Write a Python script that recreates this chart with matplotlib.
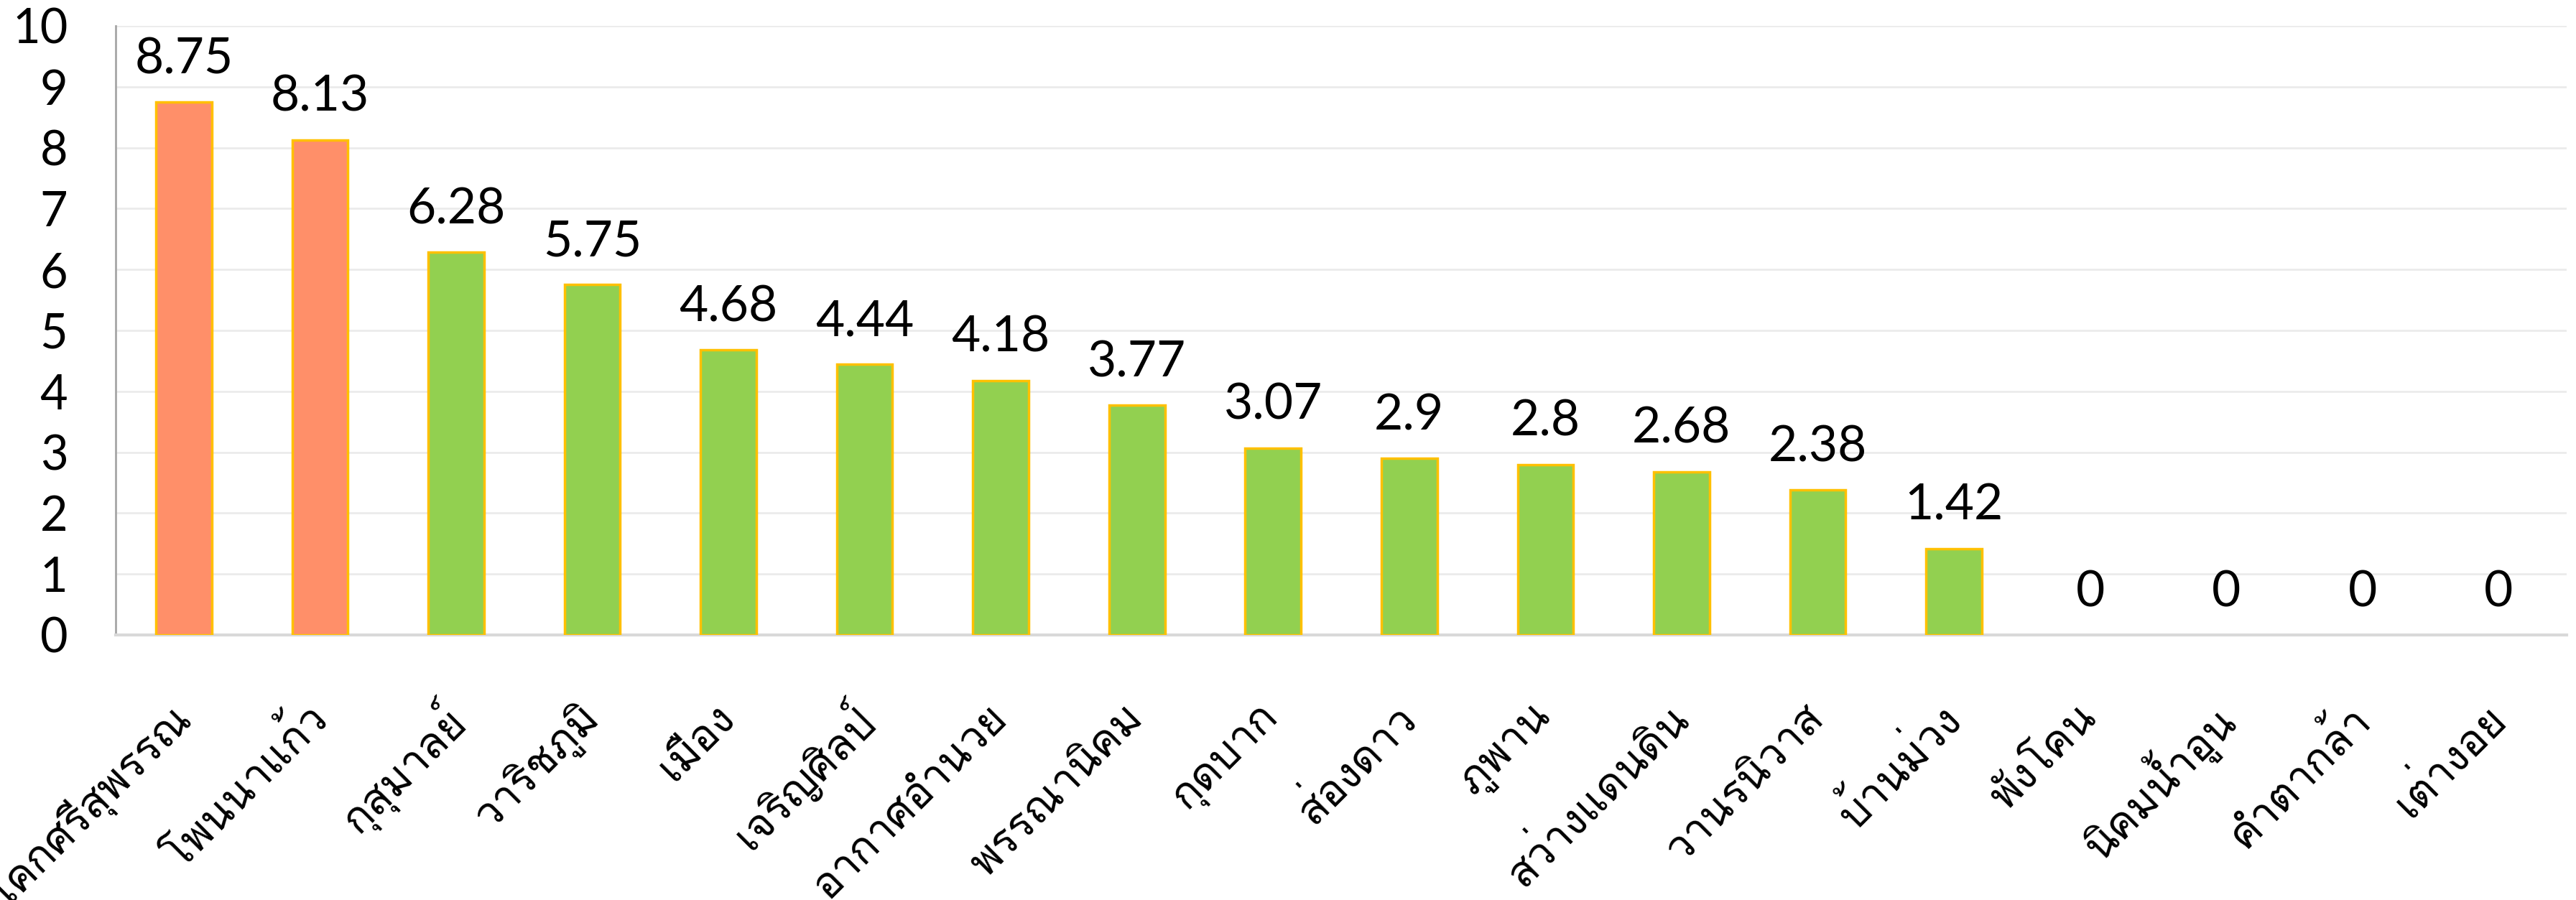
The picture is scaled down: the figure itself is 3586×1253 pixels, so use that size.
import numpy as np
import matplotlib
matplotlib.use("Agg")
import matplotlib.pyplot as plt
from matplotlib import font_manager
from fontTools.ttLib import TTFont

# -----------------------------------
# Data
# -----------------------------------

districts = [
    "โคกศรีสุพรรณ", "โพนนาแก้ว", "กุสุมาลย์", "วาริชภูมิ", "เมือง",
    "เจริญศิลป์", "อากาศอำนวย", "พรรณานิคม", "กุดบาก", "ส่องดาว",
    "ภูพาน", "สว่างแดนดิน", "วานรนิวาส", "บ้านม่วง", "พังโคน",
    "นิคมน้ำอูน", "คำตากล้า", "เต่างอย",
]
values = [8.75, 8.13, 6.28, 5.75, 4.68, 4.44, 4.18, 3.77, 3.07, 2.9,
          2.8, 2.68, 2.38, 1.42, 0, 0, 0, 0]
value_labels = ["8.75", "8.13", "6.28", "5.75", "4.68", "4.44", "4.18", "3.77",
                "3.07", "2.9", "2.8", "2.68", "2.38", "1.42", "0", "0", "0", "0"]
highlight = [True, True] + [False] * 16

# -----------------------------------
# Find a font that has Thai glyphs
# -----------------------------------

thai_font = None
for f in font_manager.fontManager.ttflist:
    try:
        tt = TTFont(f.fname, fontNumber=0, lazy=True)
        cmap = tt.getBestCmap()
        if cmap and 0x0E01 in cmap and 0x0E2A in cmap and 0x0E48 in cmap:
            thai_font = f.name
            break
    except Exception:
        pass

thai_family = [thai_font, "DejaVu Sans"] if thai_font else ["DejaVu Sans"]
num_family = ["Lato", "DejaVu Sans"]

# -----------------------------------
# Figure
# -----------------------------------

fig = plt.figure(figsize=(35.87, 12.53), dpi=100)
ax = fig.add_axes([0.0449, 0.2945, 0.9512, 0.6768])

x = np.arange(len(values))
colors = ["#FF8F69" if h else "#92D050" for h in highlight]
edges = ["#FFC000" if v > 0 else "none" for v in values]

ax.bar(x, values, width=0.41, color=colors, edgecolor=edges,
       linewidth=2.5, zorder=3)

for xi, v, lab in zip(x, values, value_labels):
    ax.annotate(lab, (xi, v), xytext=(0, 20), textcoords="offset points",
                ha="center", va="bottom", fontsize=50, family=num_family,
                color="black")

ax.set_xlim(-0.5, len(values) - 0.5)
ax.set_ylim(0, 10)
ax.set_yticks(np.arange(0, 11, 1))
ax.yaxis.grid(True, color="#EBEBEB", linewidth=2, zorder=0)
ax.set_axisbelow(True)

for side in ["top", "right"]:
    ax.spines[side].set_visible(False)
ax.spines["left"].set_color("#A6A6A6")
ax.spines["left"].set_linewidth(2)
ax.spines["bottom"].set_color("#D9D9D9")
ax.spines["bottom"].set_linewidth(3)

ax.tick_params(axis="y", length=0, pad=48, labelsize=48)
ax.tick_params(axis="x", length=0, pad=77)
for t in ax.get_yticklabels():
    t.set_family(num_family)

ax.set_xticks(x)
ax.set_xticklabels(districts, rotation=45, ha="right", va="center",
                   rotation_mode="anchor", fontsize=43, family=thai_family)

fig.savefig("out.png", dpi=100)
